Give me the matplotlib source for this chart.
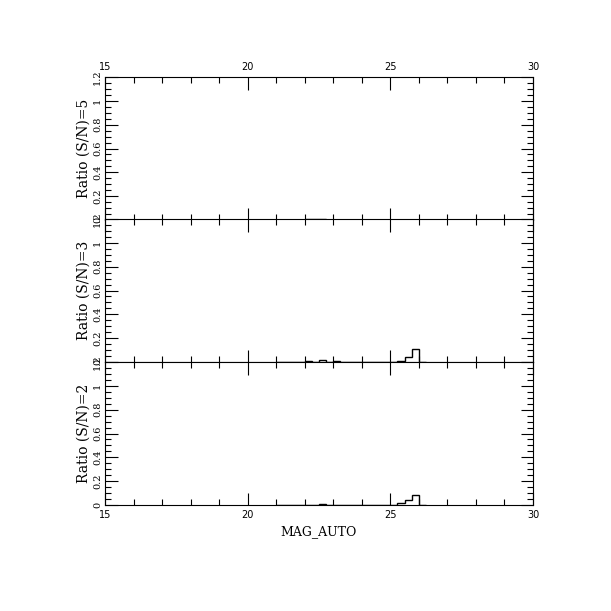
import numpy as np
import matplotlib.pyplot as plt
from matplotlib.ticker import MultipleLocator

# bin edges in MAG_AUTO (0.25 mag bins)
edges = [21.0, 21.25, 21.5, 21.75, 22.0, 22.25, 22.5, 22.75, 23.0, 23.25, 23.5,
         23.75, 24.0, 24.25, 24.5, 24.75, 25.0, 25.25, 25.5, 25.75, 26.0, 26.25]

# ratio per bin for each S/N threshold
ratio_sn5 = [0, 0.002, 0, 0.004, 0.005, 0.005, 0.012, 0, 0.002, 0, 0,
             0, 0, 0.004, 0, 0, 0, 0, 0, 0, 0]
ratio_sn3 = [0, 0.002, 0, 0.004, 0.012, 0.004, 0.017, 0.004, 0.01, 0.003, 0.003,
             0.002, 0.002, 0.002, 0.002, 0.002, 0.004, 0.011, 0.045, 0.109, 0]
ratio_sn2 = [0, 0, 0, 0.004, 0.004, 0.004, 0.012, 0.004, 0.003, 0.002, 0,
             0, 0, 0, 0, 0, 0.004, 0.02, 0.042, 0.084, 0]

panels = [("Ratio (S/N)=5", ratio_sn5),
          ("Ratio (S/N)=3", ratio_sn3),
          ("Ratio (S/N)=2", ratio_sn2)]

fig = plt.figure(figsize=(6.11, 6.11), dpi=100)
left, width = 105 / 611, 428 / 611
tops = [77, 219, 362]
h = 143

for i, (label, vals) in enumerate(panels):
    bottom = (611 - tops[i] - h) / 611
    ax = fig.add_axes([left, bottom, width, h / 611])
    ax.stairs(vals, edges, color="black", linewidth=1)
    ax.set_xlim(15, 30)
    ax.set_ylim(0, 1.2)
    ax.xaxis.set_major_locator(MultipleLocator(5))
    ax.xaxis.set_minor_locator(MultipleLocator(1))
    ax.yaxis.set_major_locator(MultipleLocator(0.2))
    ax.yaxis.set_minor_locator(MultipleLocator(0.05))
    ax.tick_params(which="both", direction="in", top=True, right=True,
                   labelsize=7, width=0.8)
    ax.tick_params(which="major", length=9)
    ax.tick_params(which="minor", length=4)
    ax.set_yticks(np.arange(0, 1.21, 0.2))
    ax.set_yticklabels(["0", "0.2", "0.4", "0.6", "0.8", "1", "1.2"],
                       rotation=90, va="center", family="DejaVu Serif")
    ax.tick_params(axis="y", pad=2)
    for s in ax.spines.values():
        s.set_linewidth(0.8)
    ax.set_ylabel(label, family="DejaVu Serif", fontsize=10, labelpad=2)
    if i == 0:
        ax.tick_params(axis="x", labeltop=True, labelbottom=False)
    elif i == 2:
        ax.tick_params(axis="x", labelbottom=True)
        ax.set_xlabel("MAG_AUTO", family="DejaVu Serif", fontsize=9)
    else:
        ax.tick_params(axis="x", labelbottom=False)

fig.savefig("out.png", dpi=100)
